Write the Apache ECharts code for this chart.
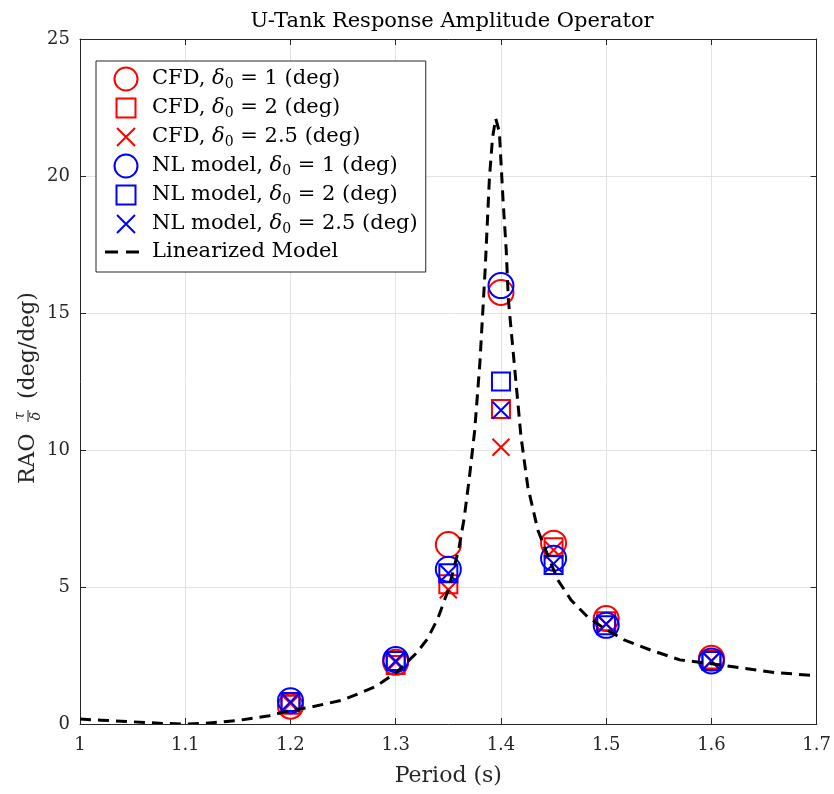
<!DOCTYPE html>
<html>
<head>
<meta charset="utf-8">
<script src="https://cdn.jsdelivr.net/npm/echarts@6/dist/echarts.min.js"></script>
<style>
  html, body { margin: 0; padding: 0; background: #fff; }
  #chart { width: 834px; height: 794px; }
</style>
</head>
<body>
<div id="chart"></div>
<script>
// Wave periods (s) at which the tank responses were evaluated
const periods = [1.2, 1.3, 1.35, 1.4, 1.45, 1.5, 1.6];

// RAO tau/delta (deg/deg) from CFD runs
const cfdAmp1  = [0.65, 2.25, 6.55, 15.75, 6.6, 3.85, 2.4];
const cfdAmp2  = [0.7, 2.15, 5.1, 11.5, 6.45, 3.75, 2.35];
const cfdAmp25 = [0.75, 2.25, 4.9, 10.1, 6.35, 3.65, 2.3];

// RAO from the nonlinear model
const nlAmp1  = [0.85, 2.35, 5.65, 16.0, 6.05, 3.6, 2.3];
const nlAmp2  = [0.8, 2.3, 5.5, 12.5, 5.8, 3.6, 2.3];
const nlAmp25 = [0.8, 2.3, 5.5, 11.45, 5.85, 3.65, 2.3];

// Linearized model curve
const linPeriod = [1.00, 1.02, 1.05, 1.08, 1.10, 1.12, 1.15, 1.18, 1.20, 1.22, 1.25, 1.28, 1.30, 1.32, 1.33, 1.34, 1.35, 1.36, 1.365, 1.37, 1.375, 1.38, 1.385, 1.389, 1.392, 1.395, 1.3985, 1.402, 1.405, 1.407, 1.413, 1.419, 1.4255, 1.435, 1.445, 1.454, 1.4665, 1.482, 1.498, 1.517, 1.542, 1.570, 1.60, 1.63, 1.66, 1.70];
const linRao    = [0.18, 0.14, 0.08, 0.02, 0.0, 0.03, 0.13, 0.3, 0.5, 0.62, 0.88, 1.35, 1.86, 2.6, 3.1, 3.85, 4.9, 6.4, 7.5, 9.0, 10.7, 13.2, 16.6, 19.9, 21.4, 22.1, 21.6, 19.1, 17.3, 15.5, 13.0, 10.5, 8.66, 7.08, 6.1, 5.26, 4.53, 3.92, 3.49, 3.07, 2.7, 2.34, 2.2, 2.04, 1.88, 1.76];

// Axis ticks
const xTicks = { min: 1, max: 1.7, step: 0.1 };
const yTicks = { min: 0, max: 25, step: 5 };

const FONT = 'DejaVu Serif';
const RED = '#ff0000';
const BLUE = '#0000ff';
const AXIS = '#262626';

const pairs = (xs, ys) => xs.map((x, i) => [x, ys[i]]);

const CROSS = 'path://M0,0L10,10M10,0L0,10';

// Legend icons share a 48x24 box so that each marker keeps its own size
const ICON_CIRCLE = 'path://M0,0M48,24M38.5,12A11.5,11.5,0,1,1,15.5,12A11.5,11.5,0,1,1,38.5,12Z';
const ICON_SQUARE = 'path://M0,0M48,24M17.5,2.5L36.5,2.5L36.5,21.5L17.5,21.5Z';
const ICON_CROSS  = 'path://M0,0M48,24M18,3L36,21M36,3L18,21';
const ICON_DASH   = 'path://M0,0M48,24M6,10.5L19,10.5L19,13.5L6,13.5ZM27,10.5L40,10.5L40,13.5L27,13.5Z';

const markerSeries = [
  { name: 'cfd1',  label: 'CFD, {d|δ}{s|0} = 1 (deg)',        data: cfdAmp1,  color: RED,  symbol: 'circle', size: 25, icon: ICON_CIRCLE },
  { name: 'cfd2',  label: 'CFD, {d|δ}{s|0} = 2 (deg)',        data: cfdAmp2,  color: RED,  symbol: 'rect',   size: 18, icon: ICON_SQUARE },
  { name: 'cfd25', label: 'CFD, {d|δ}{s|0} = 2.5 (deg)',      data: cfdAmp25, color: RED,  symbol: CROSS,    size: 17, icon: ICON_CROSS },
  { name: 'nl1',   label: 'NL model, {d|δ}{s|0} = 1 (deg)',   data: nlAmp1,   color: BLUE, symbol: 'circle', size: 25, icon: ICON_CIRCLE },
  { name: 'nl2',   label: 'NL model, {d|δ}{s|0} = 2 (deg)',   data: nlAmp2,   color: BLUE, symbol: 'rect',   size: 18, icon: ICON_SQUARE },
  { name: 'nl25',  label: 'NL model, {d|δ}{s|0} = 2.5 (deg)', data: nlAmp25,  color: BLUE, symbol: CROSS,    size: 17, icon: ICON_CROSS }
];

const legendText = {};
markerSeries.forEach(s => { legendText[s.name] = s.label; });
legendText.lin = 'Linearized Model';

const series = markerSeries.map(s => ({
  name: s.name,
  type: 'scatter',
  xAxisIndex: 0,
  yAxisIndex: 0,
  data: pairs(periods, s.data),
  symbol: s.symbol,
  symbolSize: s.size,
  itemStyle: { color: 'rgba(0,0,0,0)', borderColor: s.color, borderWidth: 2, opacity: 1 },
  emphasis: { disabled: true },
  z: 3
}));

// Dashed linearized curve: one continuous polyline through the axis scales,
// drawn over the markers
series.push({
  name: 'lin',
  type: 'custom',
  xAxisIndex: 0,
  yAxisIndex: 0,
  data: pairs(linPeriod, linRao),
  encode: { x: 0, y: 1 },
  itemStyle: { color: '#000' },
  silent: true,
  clip: true,
  renderItem: (params, api) => {
    if (params.dataIndex !== 0) return { type: 'group', children: [] };
    const points = linPeriod.map((x, i) => api.coord([x, linRao[i]]));
    return {
      type: 'polyline',
      shape: { points: points },
      style: { stroke: '#000', lineWidth: 3, lineDash: [11, 7], lineDashOffset: 0, lineCap: 'butt', lineJoin: 'round', fill: null }
    };
  },
  z: 4
});

const legendData = markerSeries.map(s => ({
  name: s.name,
  icon: s.icon,
  itemStyle: { color: 'rgba(0,0,0,0)', borderColor: s.color, borderWidth: 2, opacity: 1 }
}));
legendData.push({ name: 'lin', icon: ICON_DASH, itemStyle: { color: '#000', borderWidth: 0 } });

const grid = { left: 80, right: 14, top: 39, bottom: 70 };

const baseX = {
  type: 'value', min: xTicks.min, max: xTicks.max, interval: xTicks.step,
  axisLine: { show: true, onZero: false, lineStyle: { color: AXIS, width: 1 } },
  axisTick: { show: true, inside: true, length: 6, lineStyle: { color: AXIS } }
};
const baseY = {
  type: 'value', min: yTicks.min, max: yTicks.max, interval: yTicks.step,
  axisLine: { show: true, onZero: false, lineStyle: { color: AXIS, width: 1 } },
  axisTick: { show: true, inside: true, length: 6, lineStyle: { color: AXIS } }
};

const option = {
  animation: false,
  backgroundColor: '#fff',
  title: {
    text: 'U-Tank Response Amplitude Operator',
    left: 447, top: 6, textAlign: 'center',
    textStyle: { fontFamily: FONT, fontSize: 21, fontWeight: 'normal', color: '#000' }
  },
  grid: grid,
  legend: {
    data: legendData,
    orient: 'vertical',
    left: 96, top: 61,
    padding: [5, 8, 8, 2],
    itemWidth: 48, itemHeight: 24, itemGap: 3,
    selectedMode: false,
    backgroundColor: '#fff',
    borderColor: AXIS, borderWidth: 1,
    formatter: name => legendText[name],
    textStyle: {
      fontFamily: FONT, fontSize: 21, color: '#000', lineHeight: 24,
      rich: {
        d: { fontFamily: FONT, fontSize: 21, fontStyle: 'italic', color: '#000', lineHeight: 24 },
        s: { fontFamily: FONT, fontSize: 14, color: '#000', lineHeight: 24, verticalAlign: 'bottom' }
      }
    }
  },
  xAxis: [
    Object.assign({}, baseX, {
      position: 'bottom',
      name: 'Period (s)', nameLocation: 'middle', nameGap: 41,
      nameTextStyle: { fontFamily: FONT, fontSize: 22, color: AXIS },
      axisLabel: {
        margin: 12, fontFamily: FONT, fontSize: 18, color: AXIS,
        formatter: v => String(Math.round(v * 10) / 10)
      },
      splitLine: { show: true, lineStyle: { color: '#e3e3e3', width: 1 } }
    }),
    Object.assign({}, baseX, {
      position: 'top',
      axisLabel: { show: false },
      splitLine: { show: false }
    })
  ],
  yAxis: [
    Object.assign({}, baseY, {
      position: 'left',
      axisLabel: {
        margin: 10, fontFamily: FONT, fontSize: 18, color: AXIS,
        formatter: v => String(Math.round(v))
      },
      splitLine: { show: true, lineStyle: { color: '#e3e3e3', width: 1 } }
    }),
    Object.assign({}, baseY, {
      position: 'right',
      axisLabel: { show: false },
      splitLine: { show: false }
    })
  ],
  // Y-axis title with the stacked tau/delta fraction, read bottom to top
  graphic: [{
    type: 'group',
    x: 28, y: 484,
    rotation: Math.PI / 2,
    children: [
      { type: 'text', x: 0, y: 0, style: { text: 'RAO', font: '22px "DejaVu Serif"', fill: AXIS, textAlign: 'left', textVerticalAlign: 'middle' } },
      { type: 'text', x: 68, y: -8, style: { text: 'τ', font: 'italic 14px "DejaVu Serif"', fill: AXIS, textAlign: 'center', textVerticalAlign: 'middle' } },
      { type: 'line', shape: { x1: 62, y1: 0, x2: 74, y2: 0 }, style: { stroke: AXIS, lineWidth: 1 } },
      { type: 'text', x: 68, y: 8, style: { text: 'δ', font: 'italic 14px "DejaVu Serif"', fill: AXIS, textAlign: 'center', textVerticalAlign: 'middle' } },
      { type: 'text', x: 85, y: 0, style: { text: '(deg/deg)', font: '22px "DejaVu Serif"', fill: AXIS, textAlign: 'left', textVerticalAlign: 'middle' } }
    ]
  }],
  series: series
};

const chart = echarts.init(document.getElementById('chart'), null, { renderer: 'canvas' });
chart.setOption(option);
</script>
</body>
</html>
